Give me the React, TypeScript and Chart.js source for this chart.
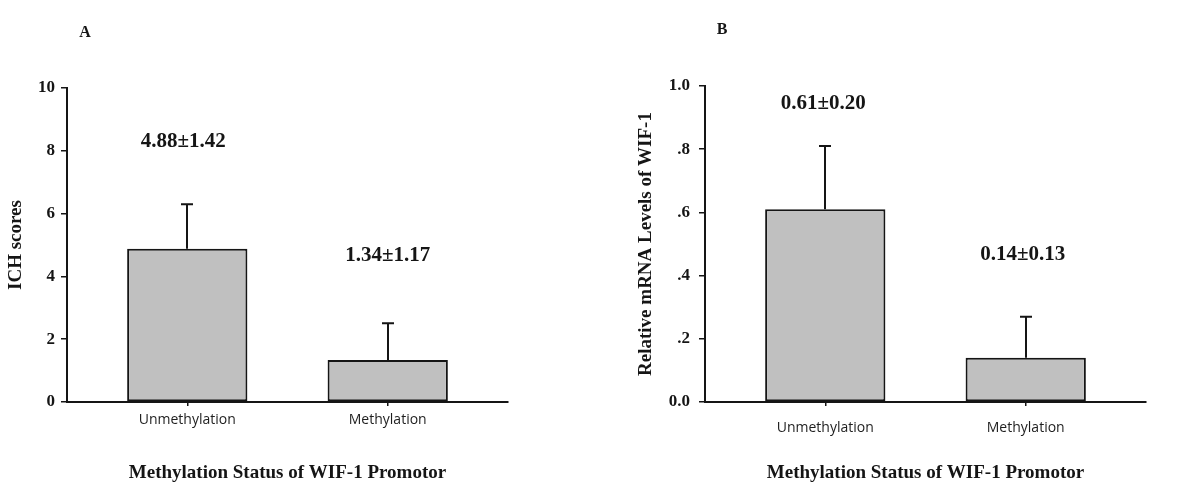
import React, { useEffect, useRef } from 'react';
import { Chart, registerables } from 'chart.js';

Chart.register(...registerables);

const categories = ['Unmethylation', 'Methylation'];
const ichMeans = [4.88, 1.34];
const ichSD = [1.42, 1.17];
const mrnaMeans = [0.61, 0.14];
const mrnaSD = [0.2, 0.13];
const ichTickValues = [0, 2, 4, 6, 8, 10];
const ichTickLabels = ['0', '2', '4', '6', '8', '10'];
const mrnaTickValues = [0, 0.2, 0.4, 0.6, 0.8, 1.0];
const mrnaTickLabels = ['0.0', '.2', '.4', '.6', '.8', '1.0'];
const ichAnnotations = ['4.88±1.42', '1.34±1.17'];
const mrnaAnnotations = ['0.61±0.20', '0.14±0.13'];
const xTitle = 'Methylation Status of WIF-1 Promotor';

const SERIF = "'Liberation Serif', 'Times New Roman', serif";
const SANS = "'Open Sans', 'Liberation Sans', sans-serif";
const INK = '#151515';

const errorBarPlugin = {
  id: 'errorBars',
  afterDatasetsDraw(chart: any, _args: any, opts: any) {
    const { ctx } = chart;
    const xs = chart.scales.x;
    const ys = chart.scales.y;
    const means: number[] = opts.means || [];
    const sds: number[] = opts.sds || [];
    ctx.save();
    ctx.strokeStyle = INK;
    ctx.lineWidth = 2;
    means.forEach((m, i) => {
      const x = Math.round(xs.getPixelForValue(i + 1));
      const y0 = ys.getPixelForValue(m);
      const y1 = ys.getPixelForValue(m + sds[i]);
      ctx.beginPath();
      ctx.moveTo(x, y0);
      ctx.lineTo(x, y1);
      ctx.moveTo(x - 6, y1);
      ctx.lineTo(x + 6, y1);
      ctx.stroke();
    });
    ctx.restore();
  },
};

const annotationPlugin = {
  id: 'panelText',
  afterDraw(chart: any, _args: any, opts: any) {
    const { ctx } = chart;
    const xs = chart.scales.x;
    ctx.save();
    ctx.fillStyle = INK;
    ctx.textAlign = 'center';
    ctx.textBaseline = 'middle';
    ctx.font = `bold 21px ${SERIF}`;
    (opts.texts || []).forEach((t: string, i: number) => {
      const p = opts.pos[i];
      ctx.fillText(t, xs.getPixelForValue(i + 1) + p[0], p[1]);
    });
    ctx.font = `bold 16px ${SERIF}`;
    ctx.fillText(opts.letter, opts.letterPos[0], opts.letterPos[1]);
    ctx.restore();
  },
};

function makeConfig(p: any): any {
  return {
    type: 'bar',
    data: {
      datasets: [
        {
          data: p.means.map((m: number, i: number) => ({ x: i + 1, y: m })),
          backgroundColor: '#c0c0c0',
          borderColor: INK,
          borderWidth: 2,
          borderSkipped: false,
          categoryPercentage: 1,
          barPercentage: 0.6,
        },
      ],
    },
    options: {
      animation: false,
      responsive: false,
      events: [],
      layout: { padding: p.padding },
      plugins: {
        legend: { display: false },
        tooltip: { enabled: false },
        errorBars: { means: p.means, sds: p.sds },
        panelText: { texts: p.texts, pos: p.textPos, letter: p.letter, letterPos: p.letterPos },
      },
      scales: {
        x: {
          type: 'linear',
          min: 0.4,
          max: 2.6,
          offset: false,
          afterBuildTicks: (s: any) => {
            s.ticks = categories.map((_c, i) => ({ value: i + 1 }));
          },
          afterFit: (s: any) => {
            s.height = 98;
          },
          ticks: {
            callback: (_v: any, i: number) => categories[i],
            font: { family: SANS, size: 14 },
            color: '#1e1e1e',
            padding: p.xTickPad,
            maxRotation: 0,
            autoSkip: false,
          },
          grid: {
            offset: false,
            drawOnChartArea: false,
            drawTicks: true,
            tickLength: 4,
            color: INK,
            lineWidth: 1.5,
          },
          border: { display: true, color: INK, width: 2 },
          title: {
            display: true,
            text: xTitle,
            font: { family: SERIF, size: 19, weight: 'bold' },
            color: INK,
            padding: { top: 0, bottom: 15.6 },
          },
        },
        y: {
          min: 0,
          max: p.yMax,
          afterBuildTicks: (s: any) => {
            s.ticks = p.tickValues.map((v: number) => ({ value: v }));
          },
          afterFit: (s: any) => {
            s.width = p.yWidth;
          },
          ticks: {
            callback: (_v: any, i: number) => p.tickLabels[i],
            font: { family: SERIF, size: 17, weight: 'bold' },
            color: INK,
            padding: p.yTickPad,
          },
          grid: { drawOnChartArea: false, drawTicks: true, tickLength: 6, color: INK, lineWidth: 1.5 },
          border: { display: true, color: INK, width: 2 },
          title: {
            display: true,
            text: p.yTitle,
            font: { family: SERIF, size: 19, weight: 'bold' },
            color: INK,
            padding: { top: 5, bottom: 0 },
          },
        },
      },
    },
    plugins: [errorBarPlugin, annotationPlugin],
  };
}

export default function App() {
  const leftRef = useRef<HTMLCanvasElement>(null);
  const rightRef = useRef<HTMLCanvasElement>(null);

  useEffect(() => {
    document.body.style.margin = '0';
    const left = new Chart(
      leftRef.current as HTMLCanvasElement,
      makeConfig({
        means: ichMeans,
        sds: ichSD,
        yMax: 10,
        tickValues: ichTickValues,
        tickLabels: ichTickLabels,
        yTitle: 'ICH scores',
        padding: { left: 0, right: 92, top: 88, bottom: 0 },
        yWidth: 67,
        yTickPad: 6,
        xTickPad: 6,
        texts: ichAnnotations,
        textPos: [
          [-4, 141.5],
          [0, 256],
        ],
        letter: 'A',
        letterPos: [85, 33],
      })
    );
    const right = new Chart(
      rightRef.current as HTMLCanvasElement,
      makeConfig({
        means: mrnaMeans,
        sds: mrnaSD,
        yMax: 1,
        tickValues: mrnaTickValues,
        tickLabels: mrnaTickLabels,
        yTitle: 'Relative mRNA Levels of WIF-1',
        padding: { left: 30, right: 54, top: 86, bottom: 0 },
        yWidth: 75,
        yTickPad: 9,
        xTickPad: 14,
        texts: mrnaAnnotations,
        textPos: [
          [-2, 103.5],
          [-3, 255],
        ],
        letter: 'B',
        letterPos: [122, 30],
      })
    );
    return () => {
      left.destroy();
      right.destroy();
    };
  }, []);

  return (
    <div style={{ position: 'relative', width: 1200, height: 500, background: '#fff' }}>
      <canvas ref={leftRef} width={600} height={500} style={{ position: 'absolute', left: 0, top: 0 }} />
      <canvas ref={rightRef} width={600} height={500} style={{ position: 'absolute', left: 600, top: 0 }} />
    </div>
  );
}
